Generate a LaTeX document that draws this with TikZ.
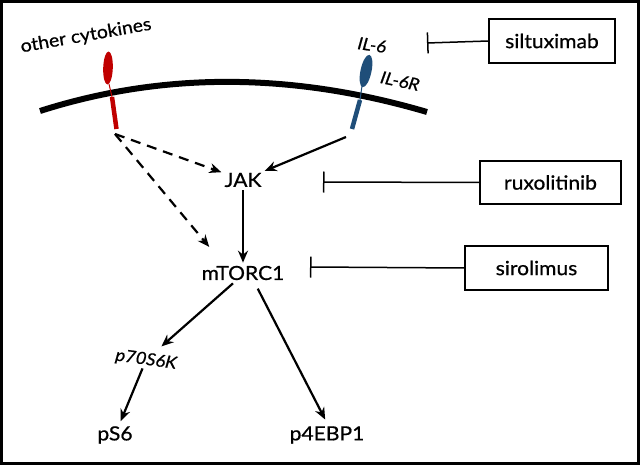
\documentclass[tikz,border=0pt]{standalone}
\usepackage{fontspec}
\setmainfont{Lato}[FakeStretch=1.08,FakeBold=0.7]
\usetikzlibrary{arrows.meta,calc}
\definecolor{recred}{RGB}{192,0,0}
\definecolor{recblue}{RGB}{31,78,121}
\tikzset{
  lbl/.style={inner sep=3pt, font=\fontsize{19.5}{22}\selectfont},
  ilbl/.style={inner sep=1pt, font=\fontsize{17}{19}\selectfont\itshape},
  drugbox/.style={draw, line width=1.5pt, inner sep=0pt, font=\fontsize{19.5}{22}\selectfont},
  arr/.style={line width=2.2pt, -{Stealth[length=12pt,width=10pt]}},
  darr/.style={arr, dash pattern=on 10pt off 7pt},
  inhib/.style={line width=1.5pt, -{Bar[width=21pt,line width=1.5pt]}},
}
\begin{document}
\begin{tikzpicture}[x=1pt,y=-1pt]
\useasboundingbox (0,0) rectangle (640,465);
\draw[line width=3pt] (1.5,1.5) rectangle (638.5,463.5);
% membrane
\draw[line width=6pt] (40,111) .. controls (162,72) and (291,72) .. (427,112);
% red receptor
\fill[recred, rotate around={-2:(108,68)}] (108,68) ellipse [x radius=4.8pt, y radius=16.5pt];
\draw[recred, line width=1pt] (109,84) -- (112,97);
\draw[recred, line width=4.5pt] (112,97) -- (116.5,129);
% blue receptor
\fill[recblue, rotate around={-12:(366,71)}] (366,71) ellipse [x radius=5.5pt, y radius=16.5pt];
\draw[recblue, line width=1pt] (362,86) -- (360,100);
\draw[recblue, line width=4.5pt] (360,100) -- (352,129);
\coordinate (redend) at (115,134);
\coordinate (blueend) at (346,137);
% labels
\node[inner sep=0pt, rotate=10, font=\fontsize{18}{20}\selectfont] (oc) at (86,36) {other cytokines};
\node[ilbl, rotate=-8] (il6) at (372,45) {IL-6};
\node[ilbl, rotate=-12] (il6r) at (400,81) {IL-6R};
% pathway nodes
\node[lbl] (jak) at (243,180) {JAK};
\node[lbl] (mtorc) at (243,273) {mTORC1};
\node[ilbl, rotate=-8] (p70) at (146,360) {p70S6K};
\node[lbl] (ps6) at (115,435) {pS6};
\node[lbl] (p4) at (327,435) {p4EBP1};
% drugs
\node[drugbox, minimum width=126pt, minimum height=44pt] (silt) at (552,41) {siltuximab};
\node[drugbox, minimum width=141pt, minimum height=43pt] (rux) at (550.5,182.5) {ruxolitinib};
\node[drugbox, minimum width=143pt, minimum height=44pt] (siro) at (536.5,268) {sirolimus};
\coordinate (tS) at (427,43);
\coordinate (tR) at (323,182);
\coordinate (tM) at (310,267);
% connectors
\draw[darr] (redend) -- (jak);
\draw[darr, shorten >=34pt] (redend) -- ([xshift=-12pt]mtorc.center);
\draw[arr] (blueend) -- (jak);
\draw[arr] (jak) -- (mtorc);
\draw[arr, shorten >=9pt] ([xshift=-10pt]mtorc.south) -- (p70);
\draw[arr, shorten <=6pt, shorten >=4pt] ([xshift=12pt]mtorc.south) -- (p4.north);
\draw[arr, shorten >=2pt] (p70) -- (ps6);
\draw[inhib] (silt.west) -- (tS);
\draw[inhib] (rux.west) -- (tR);
\draw[inhib] (siro.west) -- (tM);
\end{tikzpicture}
\end{document}
